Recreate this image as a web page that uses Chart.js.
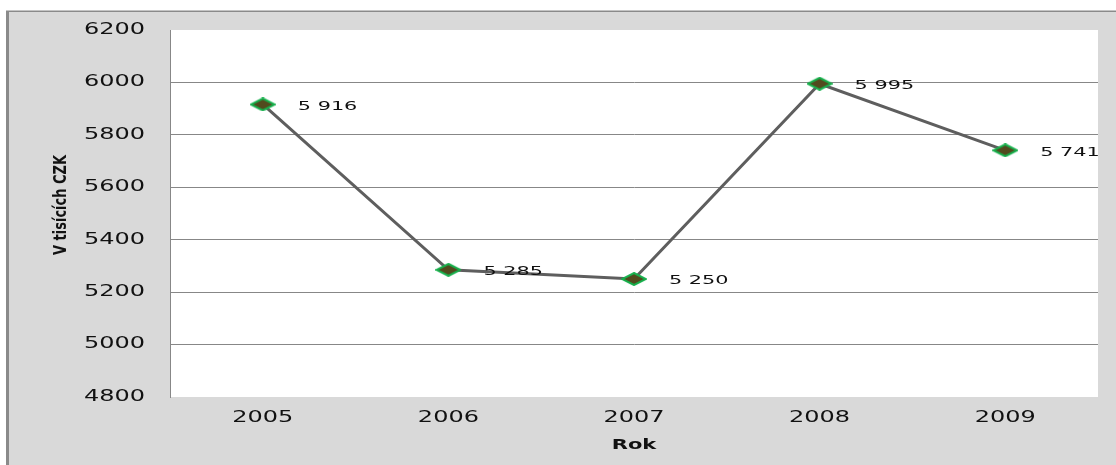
<!DOCTYPE html>
<html>
<head>
<meta charset="utf-8">
<script src="https://cdn.jsdelivr.net/npm/chart.js@4/dist/chart.umd.min.js"></script>
<style>
  html, body { margin: 0; padding: 0; background: #fff; }
  canvas { display: block; }
</style>
</head>
<body>
<canvas id="graf" width="1116" height="465"></canvas>
<script>
// data
const roky = ["2005", "2006", "2007", "2008", "2009"];
const hodnoty = [5916, 5285, 5250, 5995, 5741];
const popisky = ["5 916", "5 285", "5 250", "5 995", "5 741"];
const osaY = { min: 4800, max: 6200, krok: 200 };

const SX = 1.6; // text is drawn wider than tall

function natahnutyText(ctx, text, x, y, align, font, sx) {
  ctx.save();
  ctx.translate(x, y);
  ctx.scale(sx, 1);
  ctx.font = font;
  ctx.fillStyle = "#111";
  ctx.textAlign = align;
  ctx.textBaseline = "middle";
  ctx.fillText(text, 0, 0);
  ctx.restore();
}

// diamond marker, wide and flat
const znacka = document.createElement("canvas");
znacka.width = 26;
znacka.height = 14;
(function () {
  const c = znacka.getContext("2d");
  c.beginPath();
  c.moveTo(13, 1);
  c.lineTo(25, 7);
  c.lineTo(13, 13);
  c.lineTo(1, 7);
  c.closePath();
  c.fillStyle = "#524a1e";
  c.fill();
  c.lineWidth = 2;
  c.strokeStyle = "#16b04c";
  c.stroke();
})();

const pozadi = {
  id: "pozadi",
  beforeDraw(chart) {
    const ctx = chart.ctx;
    const a = chart.chartArea;
    ctx.save();
    ctx.fillStyle = "#fff";
    ctx.fillRect(0, 0, chart.width, chart.height);
    ctx.fillStyle = "#d9d9d9";
    ctx.fillRect(7, 11, chart.width - 7, chart.height - 11);
    ctx.fillStyle = "#8a8a8a";
    ctx.fillRect(6, 11, 3, chart.height - 11);
    ctx.fillRect(6, 10.5, chart.width - 6, 1.5);
    ctx.fillStyle = "#fff";
    ctx.fillRect(a.left, a.top, a.right - a.left, a.bottom - a.top);
    ctx.restore();
  }
};

const texty = {
  id: "texty",
  afterDraw(chart) {
    const ctx = chart.ctx;
    const x = chart.scales.x;
    const y = chart.scales.y;
    const a = chart.chartArea;

    y.ticks.forEach(t => {
      natahnutyText(ctx, String(t.value), 145, y.getPixelForValue(t.value), "right", "15px 'DejaVu Sans'", SX);
    });
    roky.forEach((r, i) => {
      natahnutyText(ctx, r, x.getPixelForValue(i), 418, "center", "15px 'DejaVu Sans'", SX);
    });

    natahnutyText(ctx, "Rok", (a.left + a.right) / 2, 445, "center", "bold 14px 'DejaVu Sans'", 1.5);

    // rotated axis title, stretched across its height
    ctx.save();
    ctx.translate(61, 205);
    ctx.rotate(-Math.PI / 2);
    ctx.scale(1, 1.35);
    ctx.font = "bold 13px 'DejaVu Sans'";
    ctx.fillStyle = "#111";
    ctx.textAlign = "center";
    ctx.textBaseline = "middle";
    ctx.fillText("V tisících CZK", 0, 0);
    ctx.restore();

    const body = chart.getDatasetMeta(0).data;
    body.forEach((p, i) => {
      natahnutyText(ctx, popisky[i], p.x + 35, p.y + 2, "left", "13px 'DejaVu Sans'", SX);
    });
  }
};

new Chart(document.getElementById("graf"), {
  type: "line",
  data: {
    labels: roky,
    datasets: [{
      data: hodnoty,
      borderColor: "#5e5e5e",
      borderWidth: 3,
      pointStyle: znacka,
      tension: 0
    }]
  },
  options: {
    responsive: false,
    animation: false,
    devicePixelRatio: 1,
    layout: { padding: { left: 170, top: 30, right: 18, bottom: 68 } },
    plugins: { legend: { display: false }, tooltip: { enabled: false } },
    scales: {
      x: {
        offset: true,
        grid: { display: false, drawTicks: false },
        border: { display: false },
        ticks: { display: false },
        afterFit: s => { s.height = 0; }
      },
      y: {
        min: osaY.min,
        max: osaY.max,
        ticks: { display: false, stepSize: osaY.krok },
        grid: {
          drawTicks: false,
          color: c => (c.tick && (c.tick.value === osaY.min || c.tick.value === osaY.max)) ? "rgba(0,0,0,0)" : "#878787",
          lineWidth: 1
        },
        border: { display: true, color: "#878787", width: 1 },
        afterFit: s => { s.width = 0; }
      }
    }
  },
  plugins: [pozadi, texty]
});
</script>
</body>
</html>
